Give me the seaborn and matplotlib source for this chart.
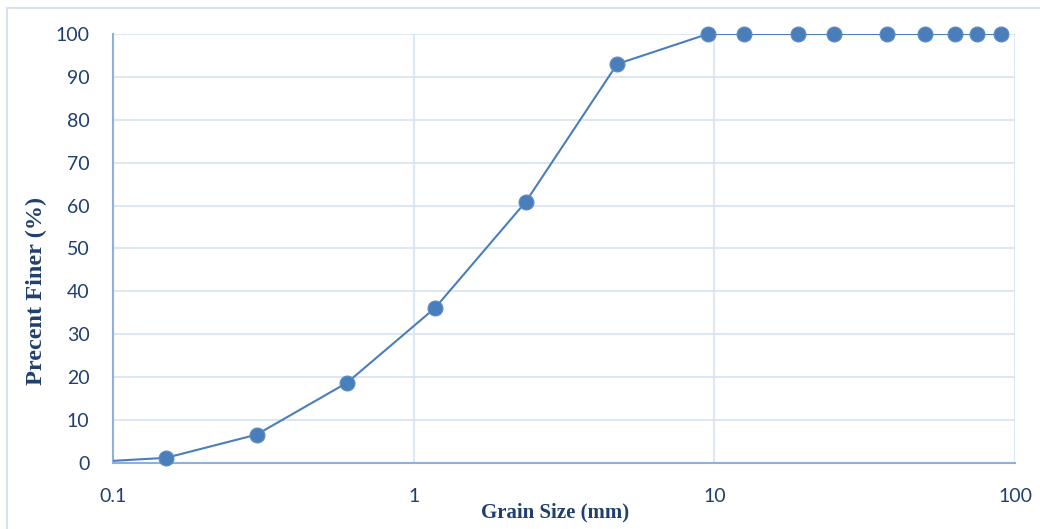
import numpy as np
import pandas as pd
import matplotlib
matplotlib.use("Agg")
import matplotlib.pyplot as plt
import seaborn as sns
from matplotlib.patches import Rectangle

# sieve analysis data
grain_size = [0.075, 0.15, 0.3, 0.6, 1.18, 2.36, 4.75, 9.5, 12.5, 19, 25, 37.5, 50, 63, 75, 90]
percent_finer = [0.0, 1.2, 6.6, 18.7, 36.2, 60.9, 93.0, 100, 100, 100, 100, 100, 100, 100, 100, 100]
x_ticks = [0.1, 1, 10, 100]
x_tick_labels = ["0.1", "1", "10", "100"]
y_ticks = list(range(0, 101, 10))

df = pd.DataFrame({"grain_size": grain_size, "percent_finer": percent_finer})
shown = df[df["grain_size"] >= 0.1]  # markers only inside the axis range

sns.set_theme(style="white")
plt.rcParams['font.family'] = ['Lato', 'DejaVu Sans']

text_col = "#1f3f6e"
line_col = "#4a7ebb"
grid_col = "#d6e2f2"
axis_col = "#8fb0dc"

fig = plt.figure(figsize=(10.4, 5.29), dpi=100)
ax = fig.add_axes([0.1087, 0.1248, 0.976 - 0.1087, 0.9357 - 0.1248])

# chart area frame (cut off at right / bottom like the original)
fig.patches.append(Rectangle((7 / 1040, -0.05), 1.1, 1 - 8 / 529 + 0.05,
                             transform=fig.transFigure, fill=False,
                             edgecolor=grid_col, linewidth=1.5))

sns.lineplot(data=df, x="grain_size", y="percent_finer", ax=ax, color=line_col,
             linewidth=1.5, zorder=3)
sns.scatterplot(data=shown, x="grain_size", y="percent_finer", ax=ax, color=line_col,
                s=115, edgecolor="#5b8cc8", linewidth=0.8, zorder=4, clip_on=False)

ax.set_xscale("log")
ax.set_xlim(0.1, 100)
ax.set_ylim(0, 100)
ax.set_xticks(x_ticks)
ax.set_xticklabels(x_tick_labels)
ax.minorticks_off()
ax.set_yticks(y_ticks)

ax.grid(True, which="major", color=grid_col, linewidth=1.2)
for side in ["top", "right"]:
    ax.spines[side].set_visible(False)
ax.spines["left"].set_color(axis_col)
ax.spines["bottom"].set_color(axis_col)
ax.spines["left"].set_linewidth(1.5)
ax.spines["bottom"].set_linewidth(1.5)

ax.tick_params(axis="both", length=0, labelsize=14, labelcolor=text_col)
ax.tick_params(axis="x", pad=18)
ax.tick_params(axis="y", pad=17)

ax.set_xlabel("Grain Size (mm)", fontsize=15, fontweight="bold",
              family=["Liberation Serif"], color=text_col)
ax.set_ylabel("Precent Finer (%)", fontsize=17.5, fontweight="bold",
              family=["Liberation Serif"], color=text_col)
ax.xaxis.set_label_coords(0.49, -0.093)
ax.yaxis.set_label_coords(-0.073, 0.40)

fig.savefig("out.png", dpi=100)
